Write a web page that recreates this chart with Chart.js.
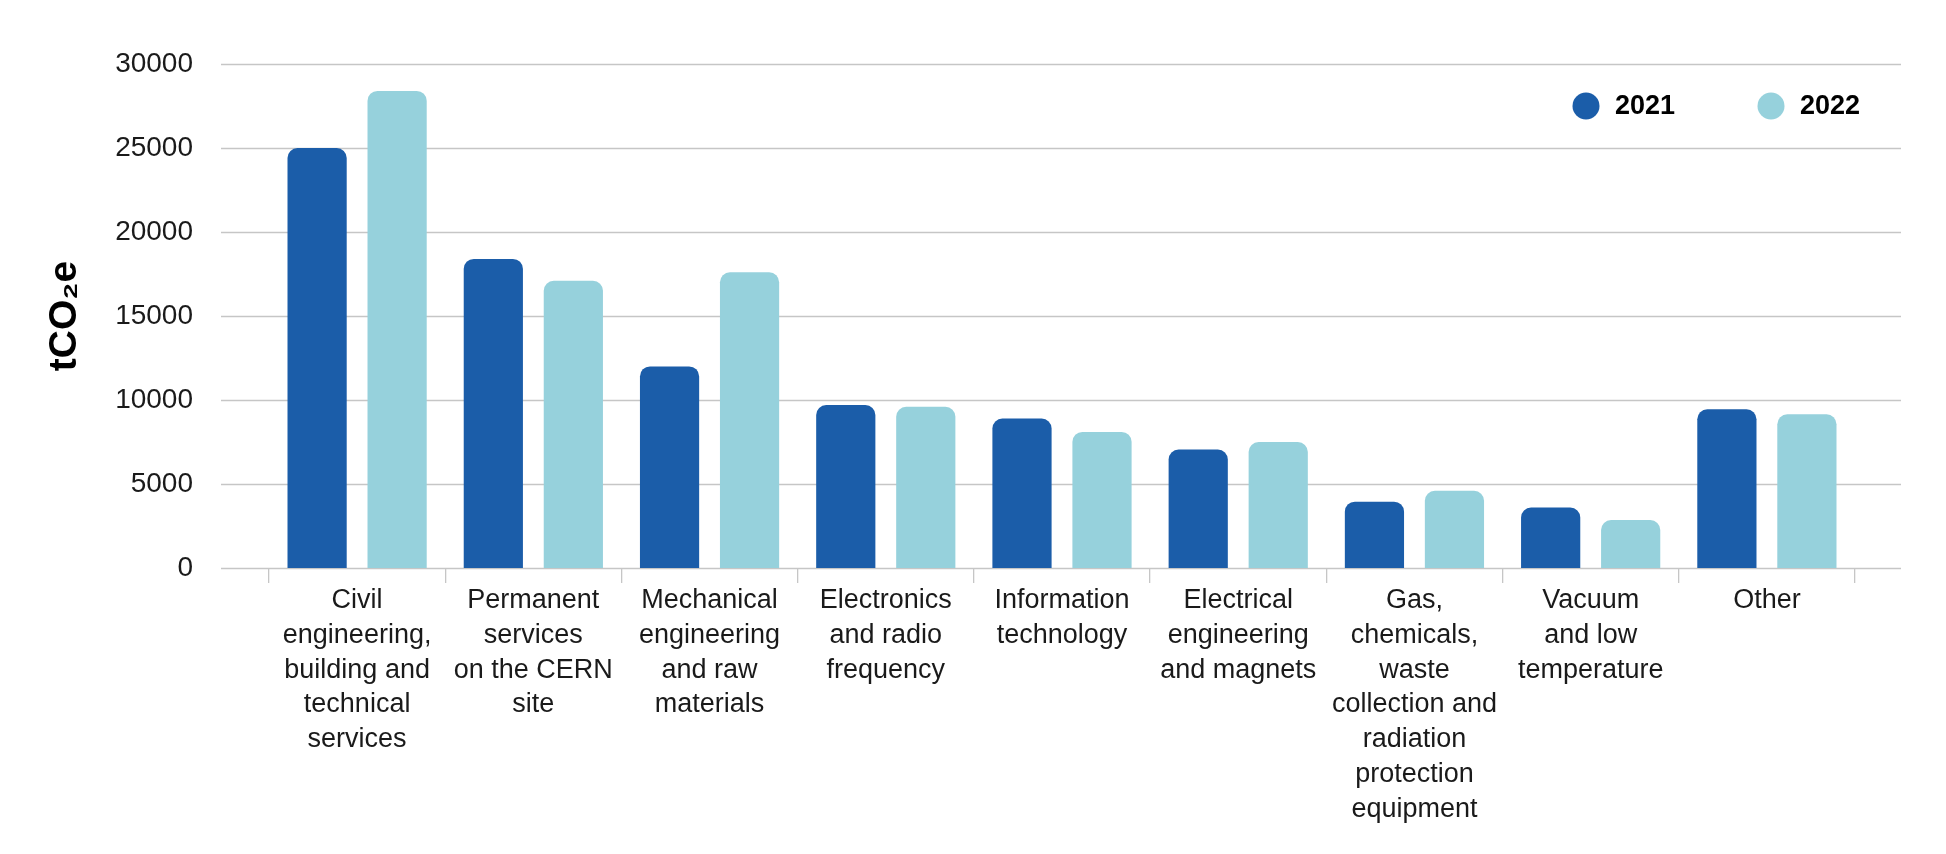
<!DOCTYPE html>
<html>
<head>
<meta charset="utf-8">
<title>tCO2e por categoría</title>
<script src="https://cdn.jsdelivr.net/npm/chart.js@4/dist/chart.umd.min.js"></script>
<style>
  html, body { margin: 0; padding: 0; background: #ffffff; }
  #contenedor { width: 1946px; height: 854px; }
</style>
</head>
<body>
<div id="contenedor"><canvas id="grafico" width="1946" height="854"></canvas></div>
<script>
// datos
const categorias = [
  ["Civil", "engineering,", "building and", "technical", "services"],
  ["Permanent", "services", "on the CERN", "site"],
  ["Mechanical", "engineering", "and raw", "materials"],
  ["Electronics", "and radio", "frequency"],
  ["Information", "technology"],
  ["Electrical", "engineering", "and magnets"],
  ["Gas,", "chemicals,", "waste", "collection and", "radiation", "protection", "equipment"],
  ["Vacuum", "and low", "temperature"],
  ["Other"]
];
const valores2021 = [25000, 18400, 12000, 9700, 8900, 7050, 3950, 3600, 9450];
const valores2022 = [28400, 17100, 17600, 9600, 8100, 7500, 4600, 2850, 9150];
const etiquetasSeries = ["2021", "2022"];
const ticksY = [0, 5000, 10000, 15000, 20000, 25000, 30000];
const tituloY = "tCO\u2082e";

const colorAzul = "#1b5da9";
const colorCeleste = "#96d1dc";
const colorGrilla = "#c6c6c6";
const fuente = "'Liberation Sans', Arial, Helvetica, sans-serif";

Chart.defaults.font.family = fuente;
Chart.defaults.color = "#1a1a1a";

// lineas horizontales mas largas que el area del grafico
const grillaPlugin = {
  id: "grillaExtendida",
  beforeDatasetsDraw(chart) {
    const ctx = chart.ctx;
    const ejeY = chart.scales.y;
    const area = chart.chartArea;
    ctx.save();
    ctx.strokeStyle = colorGrilla;
    ctx.lineWidth = 1.3;
    ticksY.forEach((v) => {
      const py = Math.round(ejeY.getPixelForValue(v)) + 0.5;
      ctx.beginPath();
      ctx.moveTo(area.left - 48, py);
      ctx.lineTo(area.right + 46, py);
      ctx.stroke();
    });
    ctx.restore();
  }
};

// leyenda con circulos dentro del area
const leyendaPlugin = {
  id: "leyendaCirculos",
  afterDraw(chart) {
    const ctx = chart.ctx;
    const area = chart.chartArea;
    const centros = [area.right - 269, area.right - 84];
    const py = area.top + 42;
    ctx.save();
    ctx.font = "bold 27px " + fuente;
    ctx.textBaseline = "middle";
    ctx.textAlign = "left";
    chart.data.datasets.forEach((ds, i) => {
      ctx.fillStyle = ds.backgroundColor;
      ctx.beginPath();
      ctx.arc(centros[i], py, 13.5, 0, Math.PI * 2);
      ctx.fill();
      ctx.fillStyle = "#000000";
      ctx.fillText(ds.label, centros[i] + 29, py + 1);
    });
    ctx.restore();
  }
};

const config = {
  type: "bar",
  data: {
    labels: categorias,
    datasets: [
      {
        label: etiquetasSeries[0],
        data: valores2021,
        backgroundColor: colorAzul,
        borderRadius: 10,
        borderSkipped: "start",
        barPercentage: 0.74,
        categoryPercentage: 0.908
      },
      {
        label: etiquetasSeries[1],
        data: valores2022,
        backgroundColor: colorCeleste,
        borderRadius: 10,
        borderSkipped: "start",
        barPercentage: 0.74,
        categoryPercentage: 0.908
      }
    ]
  },
  options: {
    responsive: false,
    animation: false,
    devicePixelRatio: 1,
    layout: { padding: { top: 64, right: 91, bottom: 0, left: 0 } },
    plugins: {
      legend: { display: false },
      tooltip: { enabled: false }
    },
    scales: {
      x: {
        grid: {
          display: true,
          drawOnChartArea: false,
          drawTicks: true,
          tickLength: 15,
          color: colorGrilla,
          lineWidth: 1.3
        },
        border: { display: false },
        ticks: {
          padding: 0,
          maxRotation: 0,
          autoSkip: false,
          color: "#1a1a1a",
          font: { size: 27, lineHeight: 1.29 }
        },
        afterFit: (eje) => { eje.height = 286; }
      },
      y: {
        min: 0,
        max: 30000,
        grid: { display: false, drawTicks: false },
        border: { display: false },
        ticks: {
          stepSize: 5000,
          padding: 76,
          color: "#1a1a1a",
          font: { size: 28 },
          callback: (v) => String(v)
        },
        title: {
          display: true,
          text: tituloY,
          color: "#000000",
          font: { size: 39, weight: "bold", lineHeight: 1.2 },
          padding: { top: 42, bottom: 0 }
        },
        afterBuildTicks: (eje) => { eje.ticks = ticksY.map((v) => ({ value: v })); },
        afterFit: (eje) => {
          eje.width = 269;
          // el padding de las etiquetas no debe empujar el area hacia abajo
          eje.paddingTop = 17;
          eje.paddingBottom = 17;
        }
      }
    }
  },
  plugins: [grillaPlugin, leyendaPlugin]
};

new Chart(document.getElementById("grafico"), config);
</script>
</body>
</html>
